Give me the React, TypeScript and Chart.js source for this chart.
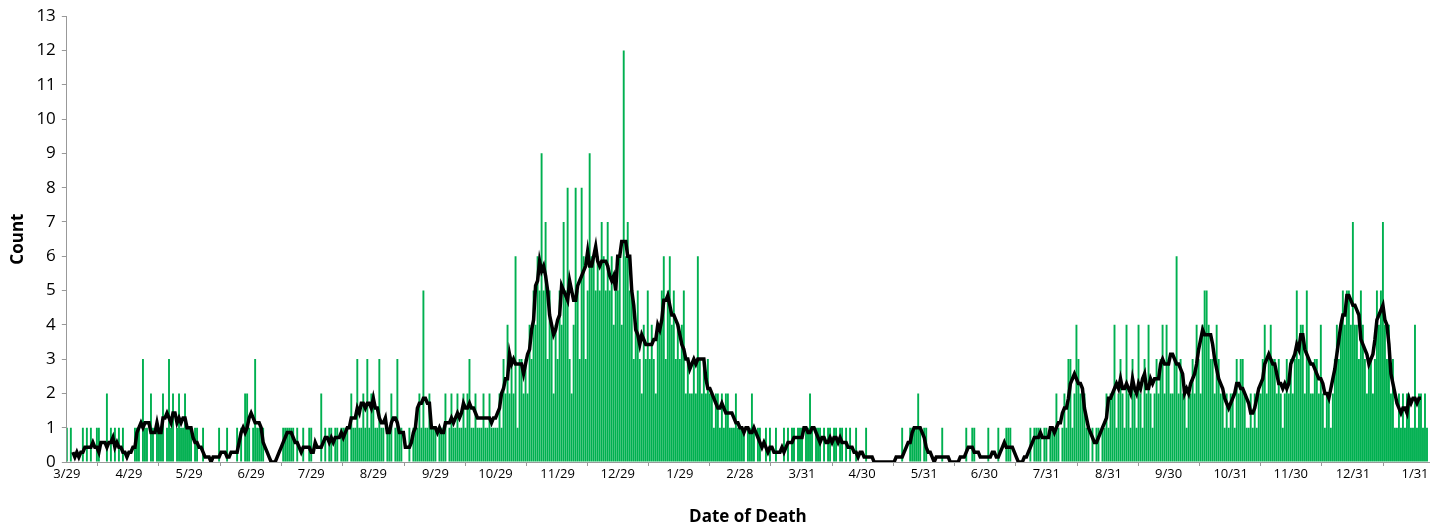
import React, { useEffect, useRef } from "react";
import { Chart, registerables } from "chart.js";
Chart.register(...registerables);

const startDate = [2020, 3, 29];
const tickLabels = ["3/29/20","4/29/20","5/29/20","6/29/20","7/29/20","8/29/20","9/29/20","10/29/20","11/29/20","12/29/20","1/29/21","2/28/21","3/31/21","4/30/21","5/31/21","6/30/21","7/31/21","8/31/21","9/30/21","10/31/21","11/30/21","12/31/21","1/31/22"];

const A = [1,0,1,0,0,0,0,0,1,0,1,0,1,0,0,1,1,0,0,0,2,0,1,0,1,0,1,0,1,0,0];
const B = [0,0,0,1,1,1,0,3,1,1,0,2,1,0,1,1,1,2,0,1,3,1,2,0,1,2,1,1,2,1];
const C = [1,1,0,1,1,0,0,1,0,0,0,0,0,0,0,1,0,0,0,1,0,0,0,0,1,0,1,0,2,2,1];
const D = [0,1,3,1,1,1,1,0,0,0,0,0,0,0,0,0,1,1,1,1,1,1,0,1,0,0,1,0,0,1];
const E = [1,0,0,0,0,2,0,1,0,1,1,0,1,1,0,1,1,1,1,0,2,1,1,3,1,1,2,1,3,1,2];
const F = [2,1,1,3,1,1,0,1,1,2,0,1,3,1,1,0,0,0,1,0,1,1,1,2,1,5,1,1,2,1,1];
const G = [1,0,1,1,1,2,0,1,2,1,1,2,1,1,2,1,2,3,1,1,2,1,1,1,2,1,1,2,1,1];
const H = [1,1,2,1,3,2,4,2,3,2,6,1,3,3,2,3,2,4,3,5,4,6,5,9,5,7,3,5,4,2,4];
const I = [3,5,4,7,5,8,3,2,4,8,5,3,8,6,3,5,9,6,6,5,6,5,7,6,5,7,5,6,4,5];
const J = [5,6,4,12,6,7,5,5,3,4,5,3,2,4,3,5,3,4,3,2,4,4,5,6,3,5,6,4,5,3,4];
const K = [3,4,5,2,3,2,2,3,2,6,3,2,3,2,3,2,2,1,2,2,1,2,1,2,2,1,1,1,2,1];
const L = [1,1,1,0,1,1,2,1,0,1,1,0,0,1,0,1,0,0,1,0,0,0,1,0,1,0,1,1,0,1,1];
const M = [1,0,1,1,2,1,0,1,1,1,0,1,0,1,1,0,1,1,0,1,1,0,1,0,1,0,0,1,0,0];
const N = [0,0,1,0,0,0,0,0,0,0,0,0,0,0,0,0,0,0,0,0,1,0,0,0,1,1,1,1,2,1,0];
const O = [1,1,0,0,0,0,0,0,0,1,0,0,0,0,0,0,0,0,0,0,0,1,0,0,1,1,0,0,0,0];
const P = [0,0,1,0,0,0,0,1,0,0,0,1,1,1,0,0,0,0,0,0,0,0,0,1,0,1,1,1,1,0,1];
const Q = [1,0,1,1,1,2,1,0,1,2,1,3,3,1,2,4,3,2,2,2,1,1,0,1,0,1,1,0,1,1,2];
const R = [1,2,2,4,1,2,3,2,1,4,2,1,3,2,1,4,2,1,3,2,4,2,1,2,3,2,3,4,2,4];
const S = [3,2,2,3,6,2,3,2,2,1,2,2,3,2,4,3,2,4,5,5,4,3,3,2,4,3,2,2,1,2,1];
const T = [2,2,1,3,2,3,3,2,1,1,2,1,2,1,2,2,3,4,2,3,4,3,3,2,3,2,1,2,3,2];
const U = [3,2,3,5,3,4,4,2,5,3,2,2,3,3,2,4,2,1,2,2,1,2,3,4,3,4,5,4,5,5,4];
const V = [7,4,4,3,5,4,3,2,3,3,2,3,5,4,5,7,4,3,4,2,3,1,1,2,1,2,1,2,2,1,1];
const W = [4,1,2,2,1,2,1];

const counts = [...A,...B,...C,...D,...E,...F,...G,...H,...I,...J,...K,...L,...M,...N,...O,...P,...Q,...R,...S,...T,...U,...V,...W];

const dateKeys = counts.map((_, i) => {
  const d = new Date(startDate[0], startDate[1] - 1, startDate[2] + i);
  return `${d.getMonth() + 1}/${d.getDate()}/${String(d.getFullYear()).slice(2)}`;
});
const tickIdx = tickLabels.map((t) => dateKeys.indexOf(t));

// 7-day moving average of the daily counts
const avg = counts.map((_, i) => {
  if (i < 3 || i > counts.length - 4) return null;
  let s = 0;
  for (let k = i - 3; k <= i + 3; k++) s += counts[k];
  return s / 7;
});

export default function App() {
  const ref = useRef<HTMLCanvasElement>(null);
  useEffect(() => {
    document.body.style.margin = "0";
    const font = "'Open Sans', sans-serif";
    const chart = new Chart(ref.current!, {
      data: {
        datasets: [
          {
            type: "line",
            data: avg.map((v, i) => ({ x: i, y: v })),
            borderColor: "#000",
            borderWidth: 3.5,
            pointRadius: 0,
            tension: 0,
            order: 0,
          } as any,
          {
            type: "bar",
            data: counts.map((v, i) => ({ x: i, y: v })),
            backgroundColor: "#00b050",
            barPercentage: 0.95,
            categoryPercentage: 1,
            order: 1,
          } as any,
        ],
      },
      options: {
        animation: false,
        responsive: false,
        layout: { padding: { left: 4, right: 12, top: 10, bottom: 4 } },
        plugins: { legend: { display: false }, tooltip: { enabled: false } },
        scales: {
          x: {
            type: "linear",
            offset: false,
            min: 0,
            max: 680,
            afterBuildTicks: (axis: any) => {
              axis.ticks = tickIdx.map((v) => ({ value: v }));
            },
            ticks: {
              autoSkip: false,
              maxRotation: 0,
              padding: 0,
              font: { family: font, size: 13 },
              color: "#000",
              callback: (v: any) => {
                const k = tickIdx.indexOf(Number(v));
                return k >= 0 ? tickLabels[k].replace(/\/\d+$/, "") : "";
              },
            },
            grid: { drawOnChartArea: false, drawTicks: true, tickLength: 4, color: "#999" },
            border: { color: "#999" },
            title: { display: true, text: "Date of Death", font: { family: font, size: 17, weight: "bold" }, color: "#000", padding: { top: 25, bottom: 0 } },
          },
          y: {
            min: 0,
            max: 13,
            ticks: { stepSize: 1, font: { family: font, size: 17 }, color: "#000", padding: 6 },
            grid: { drawOnChartArea: false, drawTicks: true, tickLength: 5, color: "#999" },
            border: { color: "#999" },
            title: { display: true, text: "Count", font: { family: font, size: 17, weight: "bold" }, color: "#000", padding: { bottom: 2 } },
          },
        },
      },
    });
    return () => chart.destroy();
  }, []);
  return (
    <div style={{ width: 1441, height: 531 }}>
      <canvas ref={ref} width={1441} height={531} />
    </div>
  );
}
